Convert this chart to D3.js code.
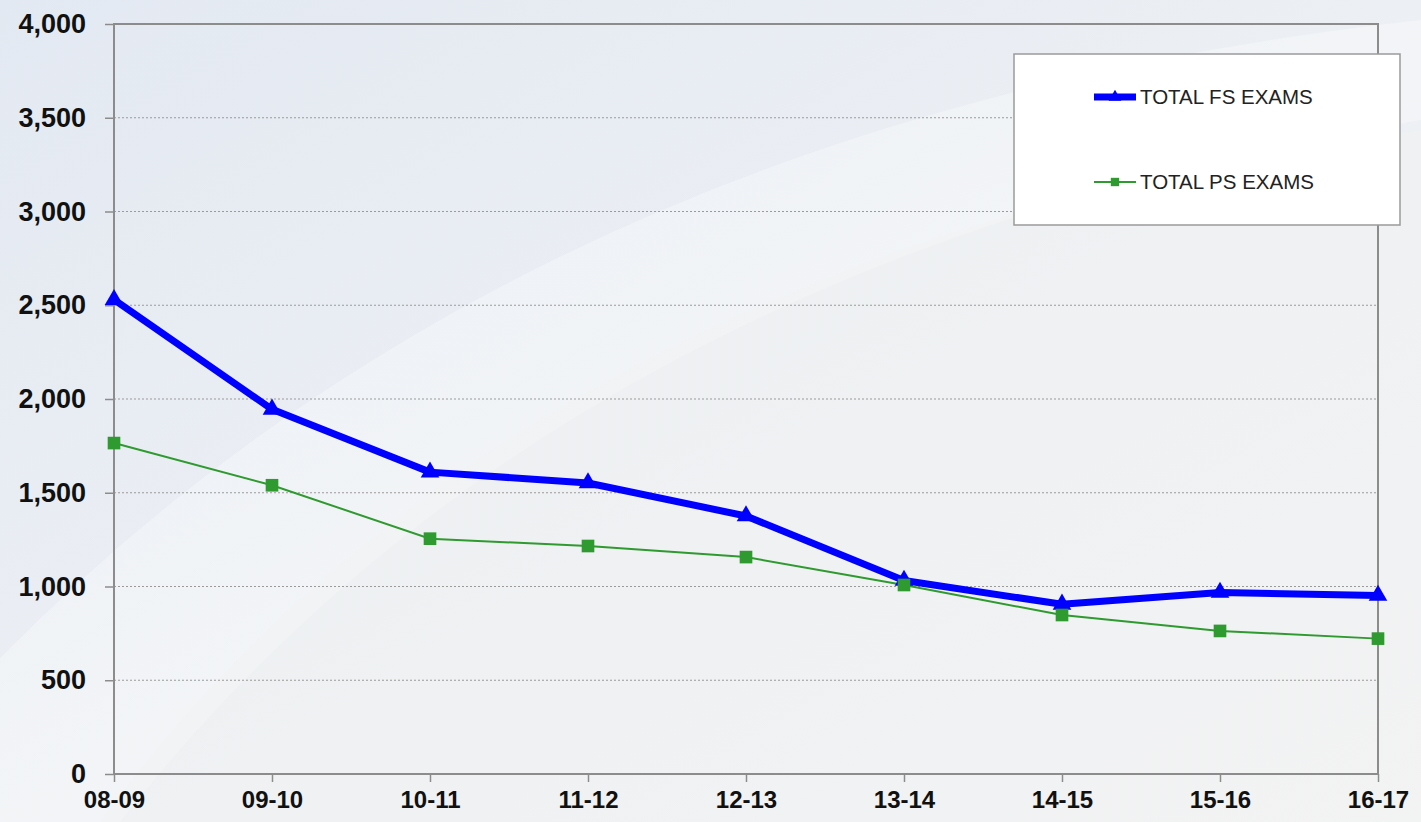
<!DOCTYPE html>
<html>
<head>
<meta charset="utf-8">
<script src="https://cdn.jsdelivr.net/npm/d3@7"></script>
<style>
  body { margin: 0; background: #eef1f5; }
  svg { display: block; }
</style>
</head>
<body>
<div id="chart"></div>
<script>
// school years on the x axis
var years = ["08-09", "09-10", "10-11", "11-12", "12-13", "13-14", "14-15", "15-16", "16-17"];
// total FS exams per year
var fsExams = [2530, 1945, 1610, 1552, 1376, 1032, 905, 968, 952];
// total PS exams per year
var psExams = [1765, 1540, 1255, 1216, 1157, 1008, 848, 763, 722];
var yTicks = [0, 500, 1000, 1500, 2000, 2500, 3000, 3500, 4000];
var seriesNames = ["TOTAL FS EXAMS", "TOTAL PS EXAMS"];

var width = 1421;
var height = 822;
var plotLeft = 114, plotRight = 1378, plotTop = 24, plotBottom = 774;

var svg = d3.select("#chart")
    .append("svg")
    .attr("width", width)
    .attr("height", height);

// background - soft blue/grey with a pale sweeping arc
var defs = svg.append("defs");
var bg = defs.append("linearGradient").attr("id", "bg")
    .attr("x1", "0").attr("y1", "0").attr("x2", "1").attr("y2", "1");
bg.append("stop").attr("offset", "0%").attr("stop-color", "#e3e9f2");
bg.append("stop").attr("offset", "55%").attr("stop-color", "#edf0f4");
bg.append("stop").attr("offset", "100%").attr("stop-color", "#f3f4f5");
svg.append("rect").attr("width", width).attr("height", height).attr("fill", "url(#bg)");

svg.append("path")
    .attr("d", "M -40 700 Q 500 120 1421 20 L 1421 120 Q 560 260 120 822 L -40 822 Z")
    .attr("fill", "#ffffff").attr("opacity", 0.3);
svg.append("path")
    .attr("d", "M 100 822 Q 520 250 1421 130 L 1421 822 Z")
    .attr("fill", "#f2f2f2").attr("opacity", 0.45);

var x = d3.scalePoint()
    .domain(years)
    .range([plotLeft, plotRight]);

var y = d3.scaleLinear()
    .domain([0, 4000])
    .range([plotBottom, plotTop]);

// dotted grid lines
svg.append("g")
    .selectAll("line")
    .data(yTicks.filter(d => d > 0 && d < 4000))
    .join("line")
    .attr("x1", plotLeft).attr("x2", plotRight)
    .attr("y1", d => y(d)).attr("y2", d => y(d))
    .attr("stroke", "#9a9a9a")
    .attr("stroke-width", 1)
    .attr("stroke-dasharray", "2,2");

// plot frame
svg.append("rect")
    .attr("x", plotLeft).attr("y", plotTop)
    .attr("width", plotRight - plotLeft).attr("height", plotBottom - plotTop)
    .attr("fill", "none")
    .attr("stroke", "#8c8c8c")
    .attr("stroke-width", 2);

// y axis
var yAxis = svg.append("g")
    .attr("transform", "translate(" + plotLeft + ",0)")
    .call(d3.axisLeft(y).tickValues(yTicks).tickFormat(d3.format(",")).tickSize(9).tickPadding(19));
yAxis.select(".domain").remove();
yAxis.selectAll("line").attr("stroke", "#8c8c8c").attr("stroke-width", 1.5);
yAxis.selectAll("text")
    .attr("font-family", "Liberation Sans, Arial, sans-serif")
    .attr("font-weight", "bold")
    .attr("font-size", 27)
    .attr("fill", "#111");

// x axis
var xAxis = svg.append("g")
    .attr("transform", "translate(0," + plotBottom + ")")
    .call(d3.axisBottom(x).tickSize(8).tickPadding(9));
xAxis.select(".domain").remove();
xAxis.selectAll("line").attr("stroke", "#8c8c8c").attr("stroke-width", 1.5);
xAxis.selectAll("text")
    .attr("font-family", "Liberation Sans, Arial, sans-serif")
    .attr("font-weight", "bold")
    .attr("font-size", 24)
    .attr("fill", "#111");

var line = d3.line()
    .x((d, i) => x(years[i]))
    .y(d => y(d));

// PS series
svg.append("path")
    .datum(psExams)
    .attr("d", line)
    .attr("fill", "none")
    .attr("stroke", "#2f9a2f")
    .attr("stroke-width", 2);

// FS series
svg.append("path")
    .datum(fsExams)
    .attr("d", line)
    .attr("fill", "none")
    .attr("stroke", "#0000ff")
    .attr("stroke-width", 7)
    .attr("stroke-linejoin", "round");

var tri = d3.symbol().type(d3.symbolTriangle).size(150);
var sq = d3.symbol().type(d3.symbolSquare).size(160);

svg.append("g")
    .selectAll("path")
    .data(fsExams)
    .join("path")
    .attr("d", tri)
    .attr("transform", (d, i) => "translate(" + x(years[i]) + "," + y(d) + ")")
    .attr("fill", "#0000ff");

svg.append("g")
    .selectAll("path")
    .data(psExams)
    .join("path")
    .attr("d", sq)
    .attr("transform", (d, i) => "translate(" + x(years[i]) + "," + y(d) + ")")
    .attr("fill", "#2f9a2f");

// legend
var legend = svg.append("g").attr("transform", "translate(1014,54)");
legend.append("rect")
    .attr("width", 386).attr("height", 171)
    .attr("fill", "#ffffff")
    .attr("stroke", "#9a9a9a")
    .attr("stroke-width", 1.5);

var legendItems = [
    {name: seriesNames[0], color: "#0000ff", width: 7, shape: d3.symbolTriangle, y: 43},
    {name: seriesNames[1], color: "#2f9a2f", width: 2, shape: d3.symbolSquare, y: 128}
];

var items = legend.selectAll(".item")
    .data(legendItems)
    .join("g")
    .attr("class", "item")
    .attr("transform", d => "translate(0," + d.y + ")");

items.append("line")
    .attr("x1", 80).attr("x2", 122)
    .attr("stroke", d => d.color)
    .attr("stroke-width", d => d.width);
items.append("path")
    .attr("d", d => d3.symbol().type(d.shape).size(70)())
    .attr("transform", "translate(101,0)")
    .attr("fill", d => d.color);
items.append("text")
    .attr("x", 126)
    .attr("dy", "0.35em")
    .attr("font-family", "Liberation Sans, Arial, sans-serif")
    .attr("font-size", 20.5)
    .attr("fill", "#222")
    .text(d => d.name);
</script>
</body>
</html>
